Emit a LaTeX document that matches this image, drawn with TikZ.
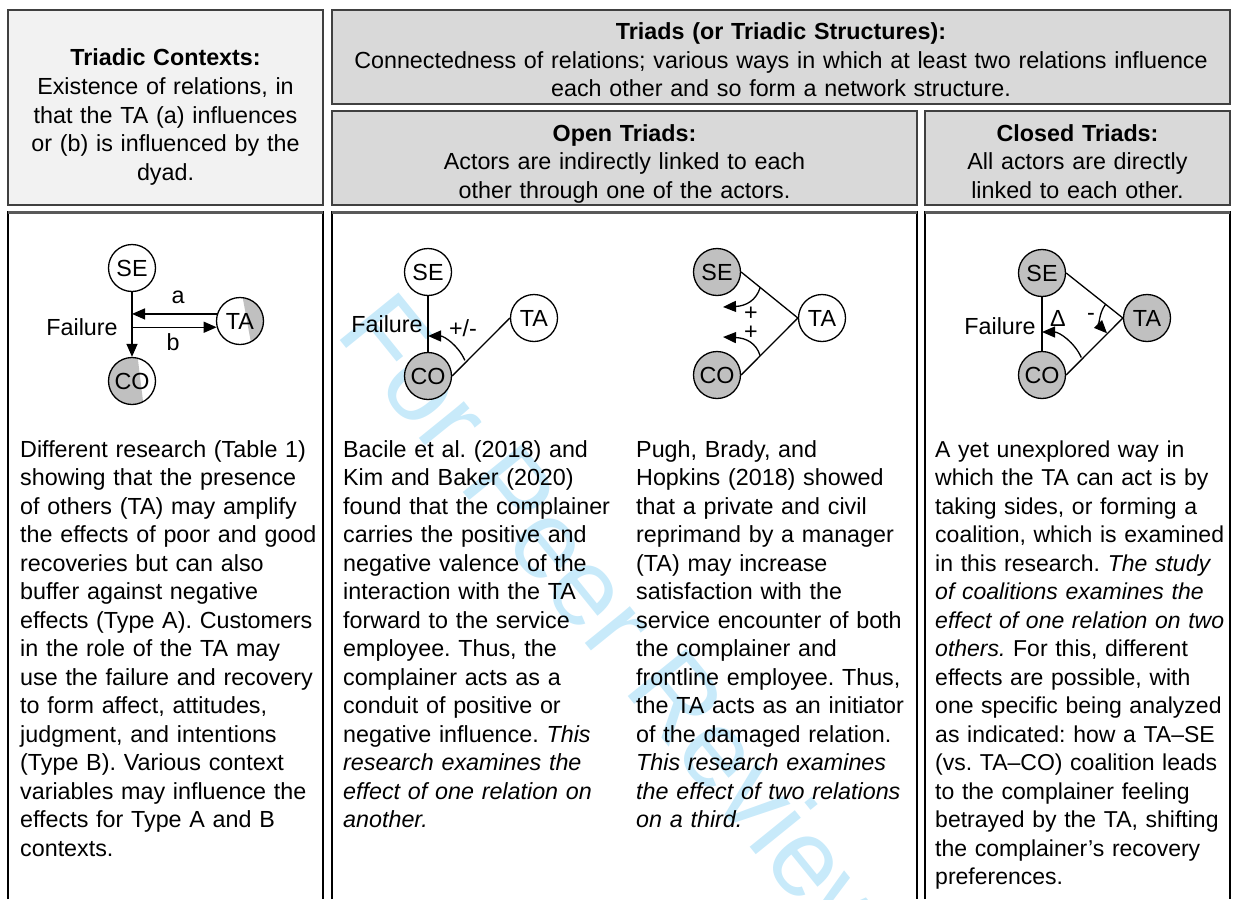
\documentclass[tikz,border=0pt]{standalone}
\usepackage{fontspec}
\setmainfont{Liberation Sans}
\usetikzlibrary{arrows.meta,calc}
\definecolor{hdrlight}{HTML}{F2F2F2}
\definecolor{hdrdark}{HTML}{D9D9D9}
\definecolor{actgray}{HTML}{C0C0C0}
\definecolor{wmark}{RGB}{200,234,250}
\definecolor{boxline}{HTML}{404040}
\definecolor{bodytop}{HTML}{595959}
\frenchspacing
\begin{document}
\begin{tikzpicture}[x=1pt,y=-1pt,
  every node/.style={font=\fontsize{23.3}{28.5}\selectfont, inner sep=0pt},
  hdrbox/.style={draw=boxline, line width=1.5pt},
  sideline/.style={line width=1.3pt},
  topline/.style={draw=bodytop, line width=3pt},
  actor/.style={circle, draw, line width=1.3pt, minimum size=47pt, inner sep=0pt, fill=white},
  actorg/.style={actor, fill=actgray},
  actorh/.style={circle, draw, line width=1.3pt, minimum size=47pt, inner sep=0pt},
  conn/.style={line width=1.3pt},
  arr/.style={conn, -{Triangle[length=13pt,width=11pt]}},
  body/.style={anchor=base west, align=left, text width=330pt},
  bodyn/.style={body, font=\fontsize{23.0}{28.5}\selectfont},
  hdrtext/.style={anchor=base, align=center},
  lbl/.style={}
]
\useasboundingbox (0,0) rectangle (1238,899);

% header boxes
\draw[hdrbox, fill=hdrlight] (8,10) rectangle (323,205);
\draw[hdrbox, fill=hdrdark] (332,10) rectangle (1230,104);
\draw[hdrbox, fill=hdrdark] (332,111) rectangle (917,205);
\draw[hdrbox, fill=hdrdark] (925,111) rectangle (1230,205);

% body boxes (open at the bottom)
\draw[sideline] (8,899) -- (8,212) -- (323,212) -- (323,899);
\draw[topline] (8,212) -- (323,212);
\draw[sideline] (332,899) -- (332,212) -- (917,212) -- (917,899);
\draw[topline] (332,212) -- (917,212);
\draw[sideline] (925,899) -- (925,212) -- (1230,212) -- (1230,899);
\draw[topline] (925,212) -- (1230,212);

% watermark
\node[anchor=base west, rotate=-51, text=wmark, font=\fontsize{110}{110}\selectfont] (wm) at (334,333) {For Peer Review};

% header texts
\node[hdrtext, text width=315pt] (hctx) at (165.5,66) {\textbf{Triadic Contexts:}\\Existence of relations, in\\that the TA (a) influences\\or (b) is influenced by the\\dyad.};
\node[hdrtext, text width=898pt] (htri) at (781,40) {\textbf{Triads (or Triadic Structures):}\\Connectedness of relations; various ways in which at least two relations influence\\each other and so form a network structure.};
\node[hdrtext, text width=585pt] (hopen) at (624.5,141) {\textbf{Open Triads:}\\Actors are indirectly linked to each\\other through one of the actors.};
\node[hdrtext, text width=305pt] (hclosed) at (1077.5,141) {\textbf{Closed Triads:}\\All actors are directly\\linked to each other.};

% ---------- diagram 1 ----------
\fill[white] (240,321) circle[radius=23.5];
\begin{scope}
  \clip (240,321) circle[radius=23.5];
  \fill[actgray] (241.5,291) -- (252.5,351) -- (280,351) -- (280,291) -- cycle;
\end{scope}
\fill[white] (132,381) circle[radius=23.5];
\begin{scope}
  \clip (132,381) circle[radius=23.5];
  \fill[actgray] (136.9,351) -- (144.2,411) -- (100,411) -- (100,351) -- cycle;
\end{scope}
\node[actor] (SE1) at (132,268) {SE};
\node[actorh] (TA1) at (240,321) {TA};
\node[actorh] (CO1) at (132,381) {CO};
\draw[arr] (SE1) -- (CO1);
\draw[arr] (TA1.163) -- (SE1 |- TA1.163);
\draw[arr] (SE1 |- TA1.195) -- (TA1.195);
\node[lbl] (la1) at (178,297) {a};
\node[lbl] (lb1) at (173,342) {b};
\node[lbl] (f1) at (82,327) {Failure};

% ---------- diagram 2 ----------
\node[actor] (SE2) at (428,272) {SE};
\node[actor] (TA2) at (534,318) {TA};
\node[actorg] (CO2) at (428,376) {CO};
\draw[conn] (SE2) -- (CO2);
\draw[conn] (CO2.east) -- (TA2.west);
\draw[arr] ([shift={(-23:40)}]CO2.center) arc[start angle=-23, end angle=-90, radius=40];
\node[lbl] (pm2) at (463,328) {+/-};
\node[lbl] (f2) at (387,324) {Failure};

% ---------- diagram 3 ----------
\node[actorg] (SE3) at (717,272) {SE};
\node[actor] (TA3) at (822,318) {TA};
\node[actorg] (CO3) at (717,375) {CO};
\draw[conn] (SE3.east) -- (TA3.west);
\draw[conn] (CO3.east) -- (TA3.west);
\coordinate (u3s) at ($(SE3.east)!0.336!(TA3.west)$);
\coordinate (l3s) at ($(CO3.east)!0.336!(TA3.west)$);
\coordinate (u3e) at ([shift={(6,35)}]SE3.center);
\coordinate (l3e) at ([shift={(6,-38)}]CO3.center);
\draw[arr] (u3s) .. controls +(-4,13) and +(23,-1) .. (u3e);
\draw[arr] (l3s) .. controls +(-4,-13) and +(23,1) .. (l3e);
\node[lbl] (p3a) at (751,314) {+};
\node[lbl] (p3b) at (751,333) {+};

% ---------- diagram 4 ----------
\node[actorg] (SE4) at (1042,273) {SE};
\node[actorg] (TA4) at (1147,318) {TA};
\node[actorg] (CO4) at (1042,375) {CO};
\draw[conn] (SE4) -- (CO4);
\draw[conn] (SE4.east) -- (TA4.west);
\draw[conn] (CO4.east) -- (TA4.west);
\draw[arr] ([shift={(-24:43)}]CO4.center) arc[start angle=-24, end angle=-90, radius=43];
\draw[arr] ([shift={(-142:22)}]TA4.west) arc[start angle=-142, end angle=-224, radius=22];
\node[lbl] (d4) at (1058,318) {Δ};
\node[lbl] (m4) at (1091,317) {-};
\node[lbl] (f4) at (1000,326) {Failure};

% body texts
\node[body] (t1) at (20,457) {Different research (Table 1)\\showing that the presence\\of others (TA) may amplify\\the effects of poor and good\\recoveries but can also\\buffer against negative\\effects (Type A). Customers\\in the role of the TA may\\use the failure and recovery\\to form affect, attitudes,\\judgment, and intentions\\(Type B). Various context\\variables may influence the\\effects for Type A and B\\contexts.};
\node[body] (t2) at (343,457) {Bacile et al. (2018) and\\Kim and Baker (2020)\\found that the complainer\\carries the positive and\\negative valence of the\\interaction with the TA\\forward to the service\\employee. Thus, the\\complainer acts as a\\conduit of positive or\\negative influence. \textit{This}\\\textit{research examines the}\\\textit{effect of one relation on}\\\textit{another.}};
\node[body] (t3) at (636,457) {Pugh, Brady, and\\Hopkins (2018) showed\\that a private and civil\\reprimand by a manager\\(TA) may increase\\satisfaction with the\\service encounter of both\\the complainer and\\frontline employee. Thus,\\the TA acts as an initiator\\of the damaged relation.\\\textit{This research examines}\\\textit{the effect of two relations}\\\textit{on a third.}};
\node[bodyn] (t4) at (935,457) {A yet unexplored way in\\which the TA can act is by\\taking sides, or forming a\\coalition, which is examined\\in this research. \textit{The study}\\\textit{of coalitions examines the}\\\textit{effect of one relation on two}\\\textit{others.} For this, different\\effects are possible, with\\one specific being analyzed\\as indicated: how a TA–SE\\(vs. TA–CO) coalition leads\\to the complainer feeling\\betrayed by the TA, shifting\\the complainer’s recovery\\preferences.};
\end{tikzpicture}
\end{document}
